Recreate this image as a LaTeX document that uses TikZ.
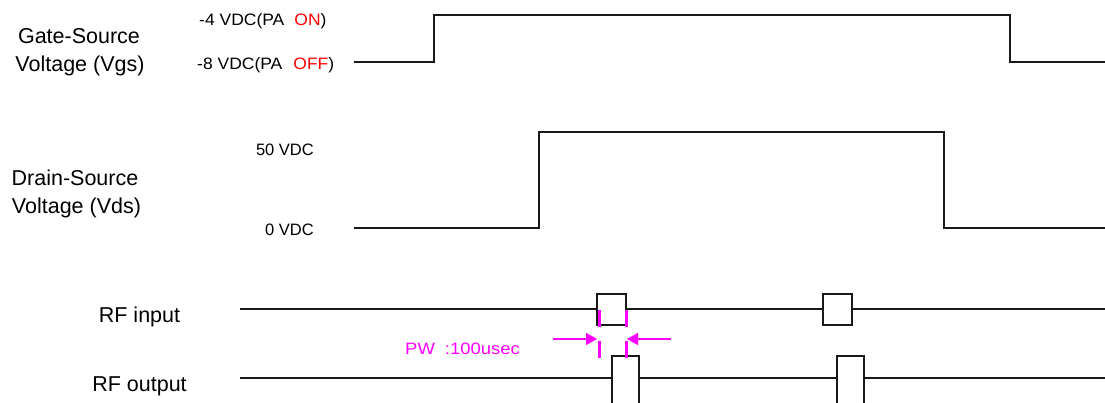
\documentclass[tikz,border=0pt]{standalone}
\usepackage{fontspec}
\setmainfont{Liberation Sans}
\newfontfamily\widesans[FakeStretch=1.06]{Liberation Sans}
\newfontfamily\widersans[FakeStretch=1.12]{Liberation Sans}
\usetikzlibrary{arrows.meta}
\definecolor{wave}{RGB}{25,25,25}
\definecolor{pwmag}{RGB}{255,0,255}
\definecolor{onred}{RGB}{255,0,0}
\tikzset{
  wavel/.style={draw=wave,line width=1.9pt,line join=miter},
  pulsebox/.style={draw=wave,line width=1.9pt,fill=white},
  biglbl/.style={inner sep=0pt,font=\fontsize{21.5}{26}\selectfont},
  smalllbl/.style={inner sep=0pt,font=\fontsize{16.5}{20}\selectfont},
  pwmark/.style={draw=pwmag,line width=3pt,dash pattern=on 17pt off 14pt},
  pwarrow/.style={draw=pwmag,line width=1.4pt,-{Triangle[length=11pt,width=12pt]}}
}
\begin{document}
\begin{tikzpicture}[x=1pt,y=-1pt]
\useasboundingbox (0,0) rectangle (1105,403);
\fill[white] (0,0) rectangle (1105,403);

% labels
\node[biglbl,anchor=base] (gs1) at (79,44) {Gate-Source};
\node[biglbl,anchor=base] (gs2) at (80,72) {Voltage (Vgs)};
\node[biglbl,anchor=base] (ds1) at (75,186) {Drain-Source};
\node[biglbl,anchor=base] (ds2) at (76.5,214) {Voltage (Vds)};
\node[biglbl,anchor=base] (rfi) at (139.5,322) {RF input};
\node[biglbl,anchor=base] (rfo) at (139.5,391) {RF output};

\node[smalllbl,anchor=base west] (von) at (199,25.5) {\widesans -4 VDC(PA\hspace{10pt}\textcolor{onred}{ON})};
\node[smalllbl,anchor=base west] (voff) at (197,70) {\widesans -8 VDC(PA\hspace{11pt}\textcolor{onred}{OFF})};
\node[smalllbl,anchor=base east] (v50) at (314,156) {50 VDC};
\node[smalllbl,anchor=base east] (v0) at (314,236) {0 VDC};
\node[smalllbl,anchor=base west,text=pwmag] (pw) at (405,354) {\widersans PW\hspace{10pt}:100usec};

% Gate-source waveform
\draw[wavel] (354,62) -- (434,62) -- (434,15) -- (1010,15) -- (1010,62) -- (1105,62);
% Drain-source waveform
\draw[wavel] (354,228) -- (539,228) -- (539,132) -- (944,132) -- (944,228) -- (1105,228);

% RF input
\draw[wavel] (240,309) -- (1105,309);
\draw[pulsebox] (597,294) rectangle (626,325);
\draw[pulsebox] (823,294) rectangle (852,325);

% RF output
\draw[wavel] (240,378) -- (1105,378);
\fill[white] (612,356) rectangle (639,405);
\draw[wavel] (612,405) -- (612,356) -- (639,356) -- (639,405);
\fill[white] (837,356) rectangle (864,405);
\draw[wavel] (837,405) -- (837,356) -- (864,356) -- (864,405);

% pulse width marks
\coordinate (m1a) at (599.5,310);
\coordinate (m1b) at (599.5,359);
\coordinate (m2a) at (626.5,310);
\coordinate (m2b) at (626.5,359);
\draw[pwmark] (m1a) -- (m1b);
\draw[pwmark] (m2a) -- (m2b);
\coordinate (la) at (553,339);
\coordinate (lb) at (597,339);
\coordinate (ra) at (671,339);
\coordinate (rb) at (627,339);
\draw[pwarrow] (la) -- (lb);
\draw[pwarrow] (ra) -- (rb);
\end{tikzpicture}
\end{document}
